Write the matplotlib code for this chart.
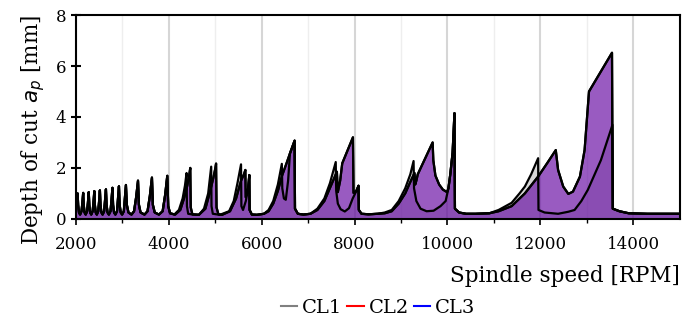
import matplotlib.pyplot as plt
from matplotlib.lines import Line2D

plt.rcParams['font.family'] = 'DejaVu Serif'
plt.rcParams['mathtext.fontset'] = 'dejavusans'

# low speed lobes, same for all three curves
spikes_rpm = [2000, 2040, 2052, 2070, 2094, 2124, 2142, 2160, 2172, 2190, 2214, 2244, 2262, 2280,
              2292, 2310, 2334, 2364, 2382, 2400, 2412, 2430, 2454, 2484, 2502, 2520,
              2533, 2553, 2578, 2611, 2630, 2650, 2664, 2685, 2713, 2748, 2769, 2790,
              2804, 2825, 2853, 2888, 2909, 2930, 2945, 2968, 2998, 3035, 3057, 3080,
              3100, 3135, 3200, 3255, 3300, 3340, 3360, 3395, 3480, 3545, 3595, 3640,
              3660, 3700, 3790, 3870, 3925, 3970, 3990, 4030]
spikes_ap = [0.85, 1.00, 0.55, 0.25, 0.17, 0.30, 0.61, 1.02, 0.55, 0.25, 0.17, 0.30, 0.63, 1.05,
             0.55, 0.25, 0.17, 0.30, 0.65, 1.09, 0.55, 0.25, 0.17, 0.30, 0.67, 1.12,
             0.55, 0.25, 0.17, 0.30, 0.70, 1.16, 0.55, 0.25, 0.17, 0.30, 0.73, 1.22,
             0.55, 0.25, 0.17, 0.30, 0.77, 1.28, 0.55, 0.25, 0.17, 0.30, 0.80, 1.33,
             0.55, 0.25, 0.17, 0.30, 0.85, 1.50, 0.55, 0.25, 0.17, 0.30, 0.90, 1.62,
             0.55, 0.25, 0.17, 0.30, 0.95, 1.69, 0.50, 0.22]

cl1_rpm = [4120, 4220, 4300, 4350, 4385, 4393, 4420, 4520, 4650, 4760,
           4850, 4915, 4922, 4950, 5100, 5300, 5400, 5480, 5557, 5565,
           5600, 5660, 5710, 5735, 5742, 5790, 5900, 6050, 6150, 6250,
           6350, 6435, 6445, 6480, 6520, 6570, 6610, 6710, 6718, 6780,
           6900, 7050, 7200, 7350, 7470, 7595, 7605, 7640, 7700, 7790,
           7880, 7960, 8040, 8085, 8092, 8150, 8300, 8500, 8650, 8800,
           8950, 9090, 9200, 9270, 9280, 9330, 9420, 9550, 9700, 9850,
           9960, 10020, 10060, 10110, 10150, 10160, 10250, 10400, 10600, 10900,
           11100, 11380, 11550, 11665, 11800, 11950, 11958, 12090, 12380, 12600,
           12735, 12880, 13020, 13300, 13550, 13560, 13700, 13900, 14300, 15000]
cl1_ap = [0.17, 0.35, 0.80, 1.30, 1.80, 0.50, 0.20, 0.17, 0.16, 0.40,
          1.00, 2.05, 0.50, 0.20, 0.16, 0.30, 0.70, 1.40, 2.14, 0.50,
          0.35, 0.70, 1.20, 1.72, 0.35, 0.17, 0.16, 0.20, 0.35, 0.70,
          1.35, 2.16, 1.20, 0.80, 0.75, 1.50, 2.57, 3.07, 0.40, 0.20,
          0.17, 0.20, 0.40, 0.80, 1.40, 2.23, 1.10, 0.60, 0.38, 0.29,
          0.42, 0.80, 1.10, 1.30, 0.35, 0.20, 0.18, 0.20, 0.25, 0.35,
          0.70, 1.20, 1.75, 2.27, 1.20, 0.70, 0.40, 0.30, 0.32, 0.50,
          0.70, 1.20, 1.75, 2.60, 4.15, 0.40, 0.25, 0.20, 0.20, 0.22,
          0.35, 0.63, 1.00, 1.27, 1.75, 2.38, 0.35, 0.25, 0.20, 0.28,
          0.35, 0.70, 1.14, 2.30, 3.69, 0.40, 0.30, 0.22, 0.20, 0.20]

cl2_rpm = [4140, 4250, 4330, 4400, 4440, 4465, 4475, 4510, 4650, 4790,
           4880, 4960, 5000, 5020, 5030, 5070, 5150, 5320, 5450, 5557,
           5620, 5650, 5658, 5710, 5735, 5742, 5790, 5900, 6050, 6150,
           6250, 6350, 6440, 6520, 6610, 6710, 6718, 6780, 6900, 7050,
           7200, 7350, 7480, 7620, 7640, 7690, 7735, 7965, 7978, 8040,
           8085, 8092, 8150, 8300, 8500, 8650, 8800, 8950, 9090, 9200,
           9290, 9305, 9330, 9360, 9680, 9695, 9740, 9820, 9900, 9990,
           10020, 10060, 10110, 10150, 10160, 10250, 10400, 10600, 10900, 11100,
           11380, 11665, 11950, 12150, 12330, 12380, 12490, 12600, 12700, 12850,
           12950, 13045, 13540, 13555, 13700, 13900, 14300, 15000]
cl2_ap = [0.17, 0.35, 0.80, 1.30, 1.70, 2.00, 0.45, 0.18, 0.16, 0.40,
          1.00, 1.60, 1.95, 2.17, 0.45, 0.18, 0.16, 0.30, 0.80, 1.50,
          1.75, 1.92, 0.85, 1.20, 1.72, 0.35, 0.17, 0.16, 0.20, 0.30,
          0.60, 1.10, 1.70, 2.10, 2.57, 3.07, 0.40, 0.20, 0.17, 0.20,
          0.35, 0.70, 1.25, 1.85, 1.05, 1.50, 2.18, 3.20, 1.02, 1.10,
          1.30, 0.35, 0.20, 0.18, 0.20, 0.22, 0.30, 0.60, 1.00, 1.45,
          1.80, 1.35, 1.50, 1.75, 3.00, 2.30, 1.70, 1.35, 1.15, 1.05,
          1.20, 1.75, 2.60, 4.15, 0.40, 0.25, 0.20, 0.20, 0.22, 0.30,
          0.50, 1.00, 1.66, 2.20, 2.70, 1.92, 1.27, 0.98, 1.07, 1.66,
          2.70, 5.00, 6.52, 0.40, 0.30, 0.22, 0.20, 0.20]

# CL3 lies on top of CL2
cl3_rpm = list(cl2_rpm)
cl3_ap = list(cl2_ap)

labels = ["CL1", "CL2", "CL3"]
colors = ["gray", "red", "blue"]
alphas = [0.3, 0.4, 0.4]

curves = [(spikes_rpm + cl1_rpm, spikes_ap + cl1_ap),
          (spikes_rpm + cl2_rpm, spikes_ap + cl2_ap),
          (spikes_rpm + cl3_rpm, spikes_ap + cl3_ap)]

fig, ax = plt.subplots(figsize=(6.98, 3.2), dpi=100)
fig.subplots_adjust(left=0.1085, right=0.974, top=0.953, bottom=0.316)

for (x, y), c, a in zip(curves, colors, alphas):
    ax.fill_between(x, y, 0, color=c, alpha=a, lw=0, zorder=2)
for x, y in curves:
    ax.plot(x, y, color="black", lw=1.6, zorder=3)

ax.set_xlim(2000, 15000)
ax.set_ylim(0, 8)
ax.set_xticks(range(2000, 15001, 2000))
ax.set_xticks(range(3000, 15000, 2000), minor=True)
ax.set_yticks([0, 2, 4, 6, 8])
ax.grid(True, axis="x", which="major", color="#d6d6d6", lw=1.5)
ax.grid(True, axis="x", which="minor", color="#eeeeee", lw=1.0)
ax.set_axisbelow(True)
for s in ax.spines.values():
    s.set_linewidth(1.5)
ax.tick_params(axis="y", direction="inout", length=7, width=1.5, labelsize=12)
ax.tick_params(axis="x", which="major", direction="out", length=4, width=1.2, labelsize=12, pad=8)
ax.tick_params(axis="x", which="minor", direction="out", length=3, width=1.0)

ax.set_xlabel("Spindle speed [RPM]", fontsize=15.5, loc="right", labelpad=9)
ax.set_ylabel("Depth of cut $a_p$ [mm]", fontsize=15.5, loc="top", labelpad=6)

handles = [Line2D([], [], color=c, lw=1.5) for c in colors]
fig.legend(handles, labels, loc="lower center", bbox_to_anchor=(0.5415, -0.045), ncol=3,
           frameon=False, handlelength=0.85, handletextpad=0.25, columnspacing=0.25, fontsize=14)

fig.savefig("out.png", dpi=100)
